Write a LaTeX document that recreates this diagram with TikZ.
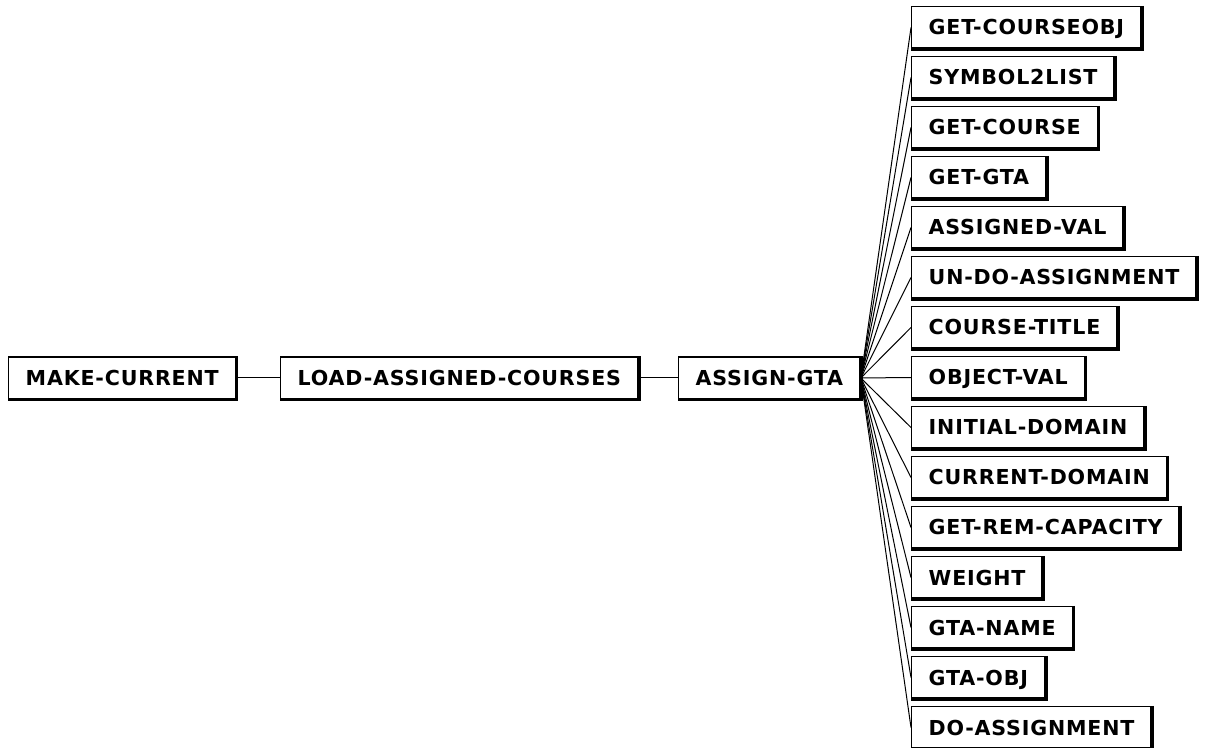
\documentclass[tikz,border=0pt]{standalone}
\usepackage{fontspec}
\newfontfamily\callfont[LetterSpace=4]{DejaVu Sans}

\tikzset{
  callbox/.style={draw, line width=0.7pt, anchor=west,
    font=\callfont\bfseries\fontsize{10.3}{12}\selectfont,
    inner xsep=8.5pt, inner ysep=0pt, minimum height=21pt,
    text height=7.5pt, text depth=0pt,
    append after command={\pgfextra{
      \draw[line width=1.8pt] (\tikzlastnode.north east)
        -- (\tikzlastnode.south east) -- (\tikzlastnode.south west);}}},
  callline/.style={line width=0.5pt}
}

\begin{document}
\begin{tikzpicture}[x=0.5pt, y=-0.5pt]
    % Fix the page to the size of the drawing
    \useasboundingbox (0,0) rectangle (1205,748);

    % Top level calls along the middle row
    \node[callbox] (makecurrent) at (8,378) {MAKE-CURRENT};
    \node[callbox] (loadcourses) at (280,378) {LOAD-ASSIGNED-COURSES};
    \node[callbox] (assigngta) at (678,378) {ASSIGN-GTA};

    \draw[callline] (makecurrent.east) -- (loadcourses.west);
    \draw[callline] (loadcourses.east) -- (assigngta.west);

    % Column of functions called by ASSIGN-GTA, fanned out from its right side
    \foreach \fname [count=\i from 0] in {GET-COURSEOBJ, SYMBOL2LIST,
        GET-COURSE, GET-GTA, ASSIGNED-VAL, UN-DO-ASSIGNMENT, COURSE-TITLE,
        OBJECT-VAL, INITIAL-DOMAIN, CURRENT-DOMAIN, GET-REM-CAPACITY,
        WEIGHT, GTA-NAME, GTA-OBJ, DO-ASSIGNMENT} {
      \node[callbox] (callee\i) at (911,{27.5+50*\i}) {\fname};
      \draw[callline] (assigngta.east) -- (callee\i.west);
    }
\end{tikzpicture}
\end{document}
